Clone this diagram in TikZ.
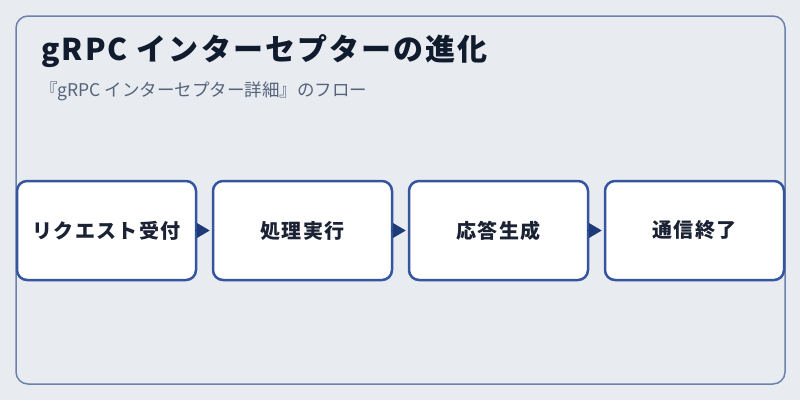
\documentclass[tikz,border=0pt]{standalone}
\usepackage{fontspec}
\setmainfont{Noto Sans CJK JP}
\usetikzlibrary{arrows.meta}
\definecolor{bg}{HTML}{E8ECF1}
\definecolor{frame}{HTML}{6B82AD}
\definecolor{boxline}{HTML}{3555A0}
\definecolor{arrowc}{HTML}{1E3A78}
\definecolor{titlec}{HTML}{111B2E}
\definecolor{subc}{HTML}{56637A}
\definecolor{nodetext}{HTML}{1A2233}
\tikzset{
  stepbox/.style={draw=boxline, line width=2.5pt, fill=white, rounded corners=10pt,
    minimum width=179pt, minimum height=99pt, inner sep=0pt,
    text=nodetext, font=\fontsize{20pt}{24pt}\selectfont\bfseries\addfontfeature{LetterSpace=7}},
  flow/.style={draw=arrowc, line width=1pt, shorten <=2pt, shorten >=2pt,
    -{Triangle[length=13pt,width=15pt]}, arrowc}
}
\begin{document}
\begin{tikzpicture}[x=1pt,y=-1pt]
\useasboundingbox (0,0) rectangle (800,400);
\fill[bg] (0,0) rectangle (800,400);
\draw[frame, line width=1.5pt, rounded corners=12pt] (16,16) rectangle (785,384);
\node[anchor=base west, inner sep=0pt, text=titlec,
  font=\fontsize{30pt}{35pt}\selectfont\bfseries\addfontfeature{LetterSpace=7}] (title) at (41,60) {gRPC インターセプターの進化};
\node[anchor=base west, inner sep=0pt, text=subc,
  font=\fontsize{17.5pt}{21pt}\selectfont] (sub) at (40,96) {『gRPC インターセプター詳細』のフロー};
\node[stepbox] (b1) at (106.5,230.5) {リクエスト受付};
\node[stepbox] (b2) at (302.5,230.5) {処理実行};
\node[stepbox] (b3) at (498.5,230.5) {応答生成};
\node[stepbox] (b4) at (694.5,230.5) {通信終了};
\draw[flow] (b1.east) -- (b2.west);
\draw[flow] (b2.east) -- (b3.west);
\draw[flow] (b3.east) -- (b4.west);
\end{tikzpicture}
\end{document}
